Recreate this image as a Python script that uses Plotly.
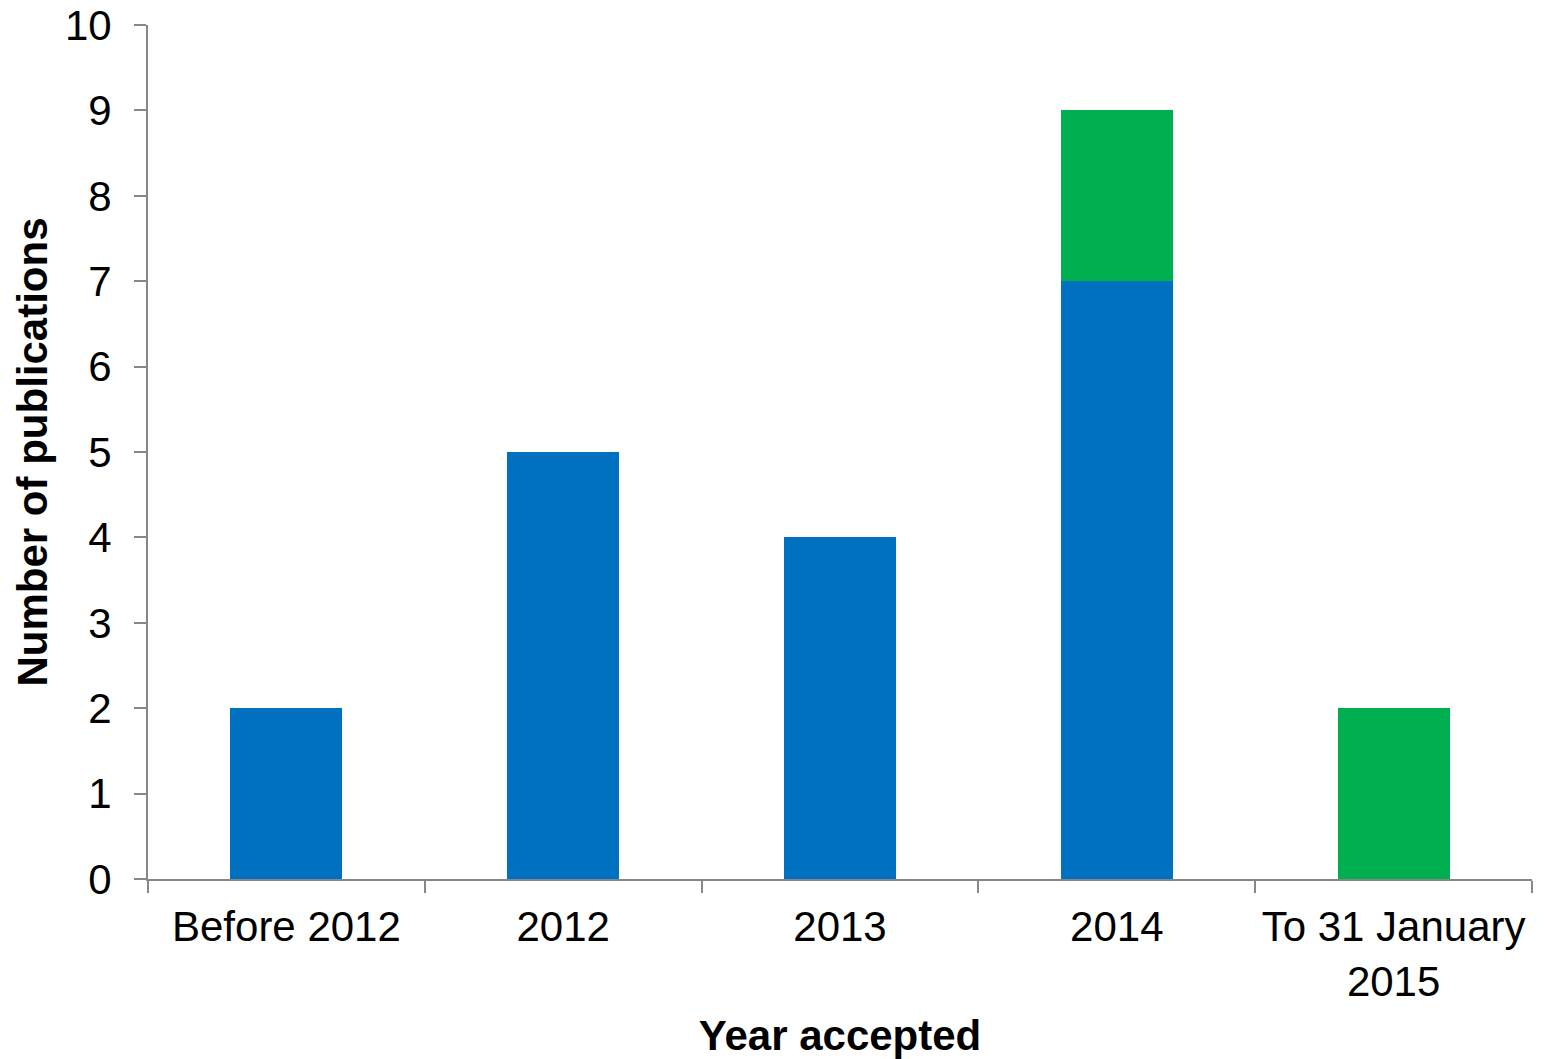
import plotly.graph_objects as go

# Publications by year of acceptance
categories = ["Before 2012", "2012", "2013", "2014", "To 31 January<br>2015"]
series_a = [2, 5, 4, 7, 0]
series_b = [0, 0, 0, 2, 2]
y_ticks = [0, 1, 2, 3, 4, 5, 6, 7, 8, 9, 10]

BLUE = "#0070C0"
GREEN = "#00B050"
AXIS = "#878787"
FONT = "Liberation Sans, Arial, sans-serif"

fig = go.Figure()
fig.add_trace(go.Bar(x=categories, y=series_a, marker=dict(color=BLUE, line=dict(width=0)),
                     name="Series 1"))
fig.add_trace(go.Bar(x=categories, y=series_b, marker=dict(color=GREEN, line=dict(width=0)),
                     name="Series 2"))

fig.update_layout(
    barmode="stack",
    bargap=0.595,
    width=1548,
    height=1059,
    margin=dict(l=148, r=16, t=25, b=180, pad=0, autoexpand=False),
    plot_bgcolor="white",
    paper_bgcolor="white",
    showlegend=False,
    font=dict(family=FONT, size=42, color="black"),
)

fig.update_xaxes(
    type="category",
    range=[-0.5, 4.5],
    tickson="boundaries",
    automargin=False,
    showline=True, linecolor=AXIS, linewidth=2,
    ticks="outside", ticklen=12, tickwidth=2, tickcolor=AXIS,
    showgrid=False, zeroline=False,
    tickfont=dict(size=42, family=FONT),
    ticklabelstandoff=10,
    title=dict(text="<b>Year accepted</b>", font=dict(size=42, family=FONT), standoff=21),
)

fig.update_yaxes(
    range=[0, 10],
    tickvals=y_ticks,
    automargin=False,
    showline=True, linecolor=AXIS, linewidth=2,
    ticks="outside", ticklen=12, tickwidth=2, tickcolor=AXIS,
    showgrid=False, zeroline=False,
    tickfont=dict(size=42, family=FONT),
    ticklabelstandoff=14,
    title=dict(text="<b>Number of publications</b>", font=dict(size=42, family=FONT), standoff=4),
)

fig.write_html("out.html")
